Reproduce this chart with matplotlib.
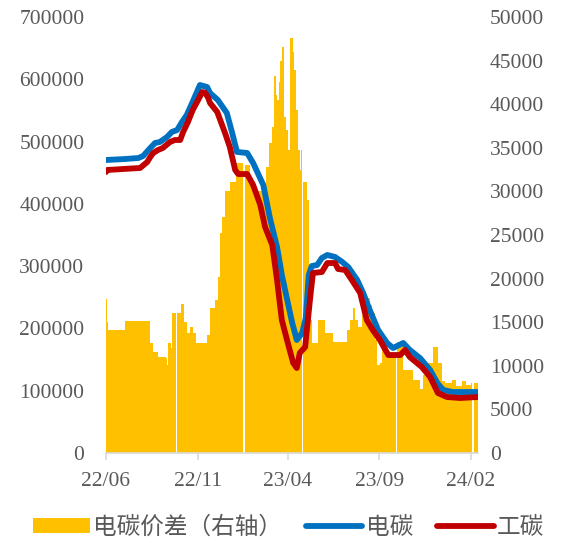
import matplotlib
matplotlib.use("Agg")
import matplotlib.pyplot as plt
import matplotlib.dates as mdates
from matplotlib.patches import Patch
from matplotlib.lines import Line2D
import numpy as np
import pandas as pd

# 电碳价差（右轴）: step data, value holds from each date to the next one
bar_dates = ["2022-06-01", "2022-06-03", "2022-06-04", "2022-07-03", "2022-08-14", "2022-08-19",
             "2022-08-27", "2022-09-09", "2022-09-11", "2022-09-13", "2022-09-18", "2022-09-19",
             "2022-09-26", "2022-09-28", "2022-10-04", "2022-10-09", "2022-10-14", "2022-10-19",
             "2022-10-24", "2022-10-29", "2022-11-17", "2022-11-22", "2022-11-30", "2022-12-05",
             "2022-12-09", "2022-12-12", "2022-12-17", "2022-12-25", "2023-01-04", "2023-01-16",
             "2023-01-19", "2023-01-28", "2023-02-02", "2023-02-10", "2023-02-17", "2023-02-20",
             "2023-02-24", "2023-03-01", "2023-03-06", "2023-03-09", "2023-03-12", "2023-03-14",
             "2023-03-17", "2023-03-19", "2023-03-22", "2023-03-26", "2023-03-29", "2023-04-01",
             "2023-04-05", "2023-04-10", "2023-04-11", "2023-04-15", "2023-04-18", "2023-04-21",
             "2023-04-23", "2023-04-25", "2023-04-26", "2023-05-03", "2023-05-06", "2023-05-11",
             "2023-05-22", "2023-06-02", "2023-06-16", "2023-07-09", "2023-07-14", "2023-07-19",
             "2023-07-22", "2023-07-27", "2023-08-03", "2023-08-08", "2023-08-16", "2023-08-20",
             "2023-08-25", "2023-08-28", "2023-09-02", "2023-09-06", "2023-09-16", "2023-09-29",
             "2023-10-01", "2023-10-11", "2023-10-27", "2023-11-08", "2023-11-13", "2023-11-21",
             "2023-11-30", "2023-12-08", "2023-12-15", "2023-12-20", "2024-01-01", "2024-01-07",
             "2024-01-17", "2024-01-24", "2024-02-01", "2024-02-03", "2024-02-06", "2024-02-13"]
bar_vals = [17700, 15000, 14100, 15100, 12600, 11600,
            11000, 10900, 10100, 12600, 12000, 16000,
            0, 16000, 17100, 15000, 13800, 14400,
            13800, 12600, 13500, 16600, 17500, 20200,
            25200, 27100, 30000, 31100, 33200, 0,
            33000, 31000, 30200, 30000, 31000, 29500,
            32800, 35500, 37400, 43200, 41000, 40500,
            42500, 45000, 46600, 38500, 37000, 34800,
            47600, 46000, 43900, 39300, 34800, 32400,
            34800, 0, 31100, 29000, 15250, 12600,
            15250, 13760, 12700, 14100, 15250, 16600,
            15250, 14450, 15800, 17800, 17000, 16000,
            13000, 10100, 10300, 12600, 11500, 0,
            12700, 9500, 8400, 7300, 9000, 10300,
            12200, 10300, 8200, 8000, 8400, 7700,
            8200, 7800, 8000, 0, 8000]

# 电碳
blue_dates = ["2022-06-01", "2022-07-03", "2022-07-25", "2022-08-02", "2022-08-14", "2022-08-22",
              "2022-08-30", "2022-09-11", "2022-09-19", "2022-09-28", "2022-10-06", "2022-10-14",
              "2022-10-23", "2022-10-31", "2022-11-05", "2022-11-17", "2022-11-22", "2022-12-05",
              "2022-12-20", "2022-12-29", "2023-01-06", "2023-01-23", "2023-02-02", "2023-02-19",
              "2023-03-02", "2023-03-14", "2023-03-22", "2023-03-31", "2023-04-08", "2023-04-16",
              "2023-04-25", "2023-05-01", "2023-05-06", "2023-05-11", "2023-05-20", "2023-05-28",
              "2023-06-06", "2023-06-19", "2023-07-01", "2023-07-11", "2023-07-26", "2023-08-05",
              "2023-08-16", "2023-08-30", "2023-09-14", "2023-09-24", "2023-10-11", "2023-10-22",
              "2023-11-08", "2023-11-25", "2023-12-07", "2023-12-17", "2024-01-02", "2024-02-13"]
blue_vals = [470400, 472000, 473600, 476800, 489700, 497700,
             499300, 507300, 515400, 518600, 531400, 542700,
             561900, 579600, 590800, 587600, 578000, 566700,
             545900, 513800, 483300, 481700, 465600, 430300,
             377300, 330700, 285800, 245600, 210300, 181400,
             192700, 216700, 285800, 300200, 301800, 313100,
             317900, 314700, 306700, 298600, 277800, 256900,
             229600, 197500, 176600, 168600, 176600, 165400,
             152500, 133300, 112400, 101100, 97900, 97900]

# 工碳
red_dates = ["2022-06-01", "2022-06-03", "2022-07-28", "2022-08-09", "2022-08-14", "2022-08-19",
             "2022-08-27", "2022-09-04", "2022-09-16", "2022-09-24", "2022-10-03", "2022-10-08",
             "2022-10-16", "2022-10-24", "2022-11-02", "2022-11-09", "2022-11-14", "2022-11-19",
             "2022-11-22", "2022-12-04", "2022-12-17", "2022-12-25", "2023-01-03", "2023-01-08",
             "2023-01-23", "2023-02-02", "2023-02-14", "2023-02-22", "2023-03-06", "2023-03-14",
             "2023-03-22", "2023-04-01", "2023-04-10", "2023-04-16", "2023-04-21", "2023-04-30",
             "2023-05-08", "2023-05-13", "2023-05-28", "2023-06-06", "2023-06-19", "2023-06-24",
             "2023-07-06", "2023-07-17", "2023-07-31", "2023-08-11", "2023-08-21", "2023-09-02",
             "2023-09-16", "2023-10-06", "2023-10-14", "2023-10-22", "2023-11-11", "2023-11-25",
             "2023-12-08", "2023-12-23", "2024-01-14", "2024-02-13"]
red_vals = [451100, 454400, 457600, 467200, 475200, 481700,
            486500, 489700, 499300, 502500, 502500, 515400,
            531400, 550700, 566700, 579600, 578000, 569900,
            561900, 547500, 513800, 491300, 454400, 447900,
            447900, 430300, 398200, 362800, 333900, 277800,
            213500, 176600, 144500, 136500, 160600, 170200,
            245600, 289000, 290600, 305000, 305000, 295400,
            293800, 277800, 256900, 213500, 197500, 181400,
            157300, 157300, 165400, 154100, 138100, 122000,
            96300, 89900, 88300, 89900]

x_ticks = ["2022-06-01", "2022-11-01", "2023-04-01", "2023-09-01", "2024-02-01"]
x_labels = ["22/06", "22/11", "23/04", "23/09", "24/02"]

plt.rcParams['font.family'] = ['Liberation Serif', 'Noto Sans CJK SC']
grey = '#595959'

fig = plt.figure(figsize=(5.66, 5.43), dpi=100)
ax = fig.add_axes([106 / 566, 1 - 453 / 543, (478 - 106) / 566, (453 - 17) / 543])
ax2 = ax.twinx()

# bars on the right axis
edges = mdates.date2num(pd.to_datetime(bar_dates))
ax2.bar(edges[:-1], bar_vals, width=np.diff(edges), align='edge', color='#FFC000', linewidth=0)
ax2.set_ylim(0, 50000)
ax2.set_yticks(np.arange(0, 50001, 5000))

# lines on the left axis, drawn above the bars
ax.set_zorder(ax2.get_zorder() + 1)
ax.patch.set_visible(False)
ax.plot(pd.to_datetime(blue_dates), blue_vals, color='#0070C0', lw=4.2, solid_capstyle='round')
ax.plot(pd.to_datetime(red_dates), red_vals, color='#C00000', lw=4.2, solid_capstyle='round')
ax.set_ylim(0, 700000)
ax.set_yticks(np.arange(0, 700001, 100000))

ax.set_xlim(pd.Timestamp("2022-06-01"), pd.Timestamp("2024-02-13"))
ax.set_xticks(pd.to_datetime(x_ticks))
ax.set_xticklabels(x_labels)

for a in (ax, ax2):
    for s in a.spines.values():
        s.set_visible(False)
ax.spines['bottom'].set_visible(True)
ax.spines['bottom'].set_color('#D9D9D9')
ax.spines['bottom'].set_linewidth(1.2)
ax.tick_params(axis='x', colors='#D9D9D9', labelcolor=grey, labelsize=15.5, length=5, width=1.2, pad=9)
ax.tick_params(axis='y', length=0, labelcolor=grey, labelsize=15.5, pad=15.5)
ax2.tick_params(axis='y', length=0, labelcolor=grey, labelsize=15.5, pad=8.5)

handles = [Patch(facecolor='#FFC000', edgecolor='none'),
           Line2D([], [], color='#0070C0', lw=4.2, solid_capstyle='round'),
           Line2D([], [], color='#C00000', lw=4.2, solid_capstyle='round')]
labels = ["电碳价差（右轴）", "电碳", "工碳"]
fig.legend(handles, labels, loc='center', bbox_to_anchor=(0.51, 1 - 527 / 543), ncol=3,
           frameon=False, handlelength=2.4, handleheight=0.6, handletextpad=0.15,
           columnspacing=1.0, labelcolor=grey, prop={'family': 'Noto Sans CJK SC', 'size': 17})

fig.savefig("out.png", dpi=100)
